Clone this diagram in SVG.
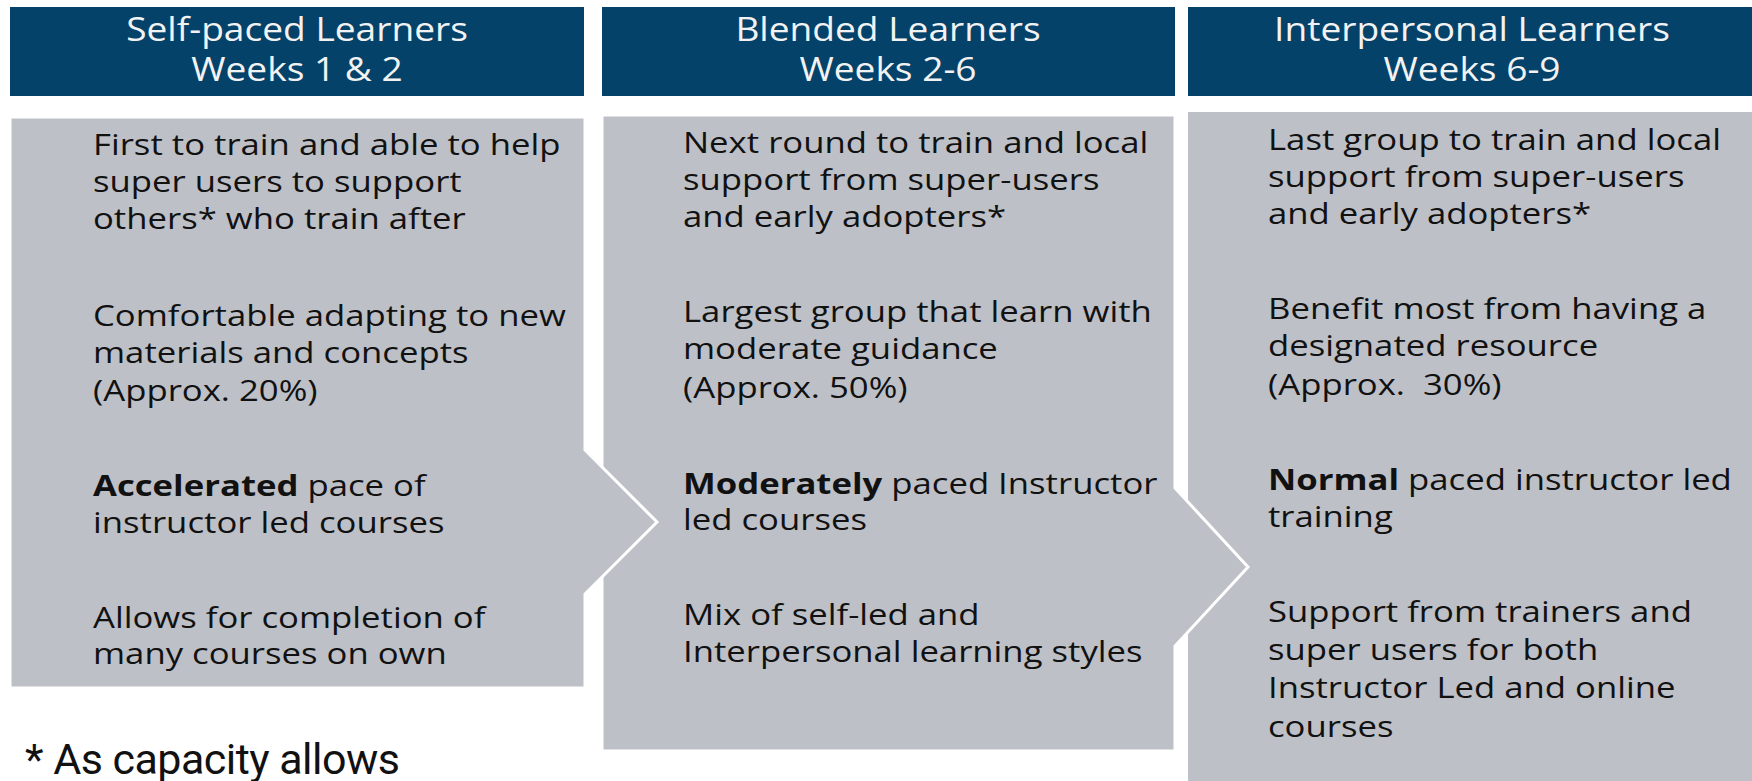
<svg xmlns="http://www.w3.org/2000/svg" width="1752" height="781" viewBox="0 0 1752 781">
<style>
.hdr{fill:#04426A}
.box{fill:#BDC0C7;stroke:#FFFFFF;stroke-width:3}
.ht{font-family:"Open Sans","Noto Sans",sans-serif;font-size:32px;fill:#F2F2F2;text-anchor:middle}
.bt{font-family:"Open Sans","Noto Sans",sans-serif;font-size:29px;fill:#111111;white-space:pre}
.b{font-weight:700}
.fn{font-family:Roboto,"Liberation Sans",sans-serif;font-size:43px;fill:#111111}
</style>
<rect width="1752" height="781" fill="#FFFFFF"/>
<g id="header1">
<rect class="hdr" x="10" y="7" width="574" height="89"/>
<g transform="translate(297,0) scale(1.16,1)"><text class="ht" x="0" y="41">Self-paced Learners</text><text class="ht" x="0" y="81">Weeks 1 &amp; 2</text></g>
</g>
<g id="header2">
<rect class="hdr" x="602" y="7" width="573" height="89"/>
<g transform="translate(888,0) scale(1.16,1)"><text class="ht" x="0" y="41">Blended Learners</text><text class="ht" x="0" y="81">Weeks 2-6</text></g>
</g>
<g id="header3">
<rect class="hdr" x="1188" y="7" width="564" height="89"/>
<g transform="translate(1472,0) scale(1.16,1)"><text class="ht" x="0" y="41">Interpersonal Learners</text><text class="ht" x="0" y="81">Weeks 6-9</text></g>
</g>
<g id="box3">
<rect x="1188" y="112" width="566" height="671" fill="#BDC0C7"/>
<g transform="translate(1268,0) scale(1.197,1)">
<text class="bt" x="0" y="150">Last group to train and local</text>
<text class="bt" x="0" y="187">support from super-users</text>
<text class="bt" x="0" y="224">and early adopters*</text>
<text class="bt" x="0" y="319">Benefit most from having a</text>
<text class="bt" x="0" y="356">designated resource</text>
<text class="bt" x="0" y="395">(Approx.  30%)</text>
<text class="bt" x="0" y="490"><tspan class="b">Normal</tspan> paced instructor led</text>
<text class="bt" x="0" y="527">training</text>
<text class="bt" x="0" y="622">Support from trainers and</text>
<text class="bt" x="0" y="660">super users for both</text>
<text class="bt" x="0" y="698">Instructor Led and online</text>
<text class="bt" x="0" y="737">courses</text>
</g>
</g>
<g id="box2">
<polygon class="box" points="602,115 1175,115 1175,488 1248,567 1175,646 1175,751 602,751"/>
<g transform="translate(683,0) scale(1.197,1)">
<text class="bt" x="0" y="153">Next round to train and local</text>
<text class="bt" x="0" y="190">support from super-users</text>
<text class="bt" x="0" y="227">and early adopters*</text>
<text class="bt" x="0" y="322">Largest group that learn with</text>
<text class="bt" x="0" y="359">moderate guidance</text>
<text class="bt" x="0" y="398">(Approx. 50%)</text>
<text class="bt" x="0" y="494"><tspan class="b">Moderately</tspan> paced Instructor</text>
<text class="bt" x="0" y="530">led courses</text>
<text class="bt" x="0" y="625">Mix of self-led and</text>
<text class="bt" x="0" y="662">Interpersonal learning styles</text>
</g>
</g>
<g id="box1">
<polygon class="box" points="10,117 585,117 585,450 657,522 585,594 585,688 10,688"/>
<g transform="translate(93,0) scale(1.197,1)">
<text class="bt" x="0" y="155">First to train and able to help</text>
<text class="bt" x="0" y="192">super users to support</text>
<text class="bt" x="0" y="229">others* who train after</text>
<text class="bt" x="0" y="326">Comfortable adapting to new</text>
<text class="bt" x="0" y="363">materials and concepts</text>
<text class="bt" x="0" y="401">(Approx. 20%)</text>
<text class="bt" x="0" y="496"><tspan class="b">Accelerated</tspan> pace of</text>
<text class="bt" x="0" y="533">instructor led courses</text>
<text class="bt" x="0" y="628">Allows for completion of</text>
<text class="bt" x="0" y="664">many courses on own</text>
</g>
</g>
<g id="footnote">
<text class="fn" x="25" y="774" textLength="375">* As capacity allows</text>
</g>
</svg>
